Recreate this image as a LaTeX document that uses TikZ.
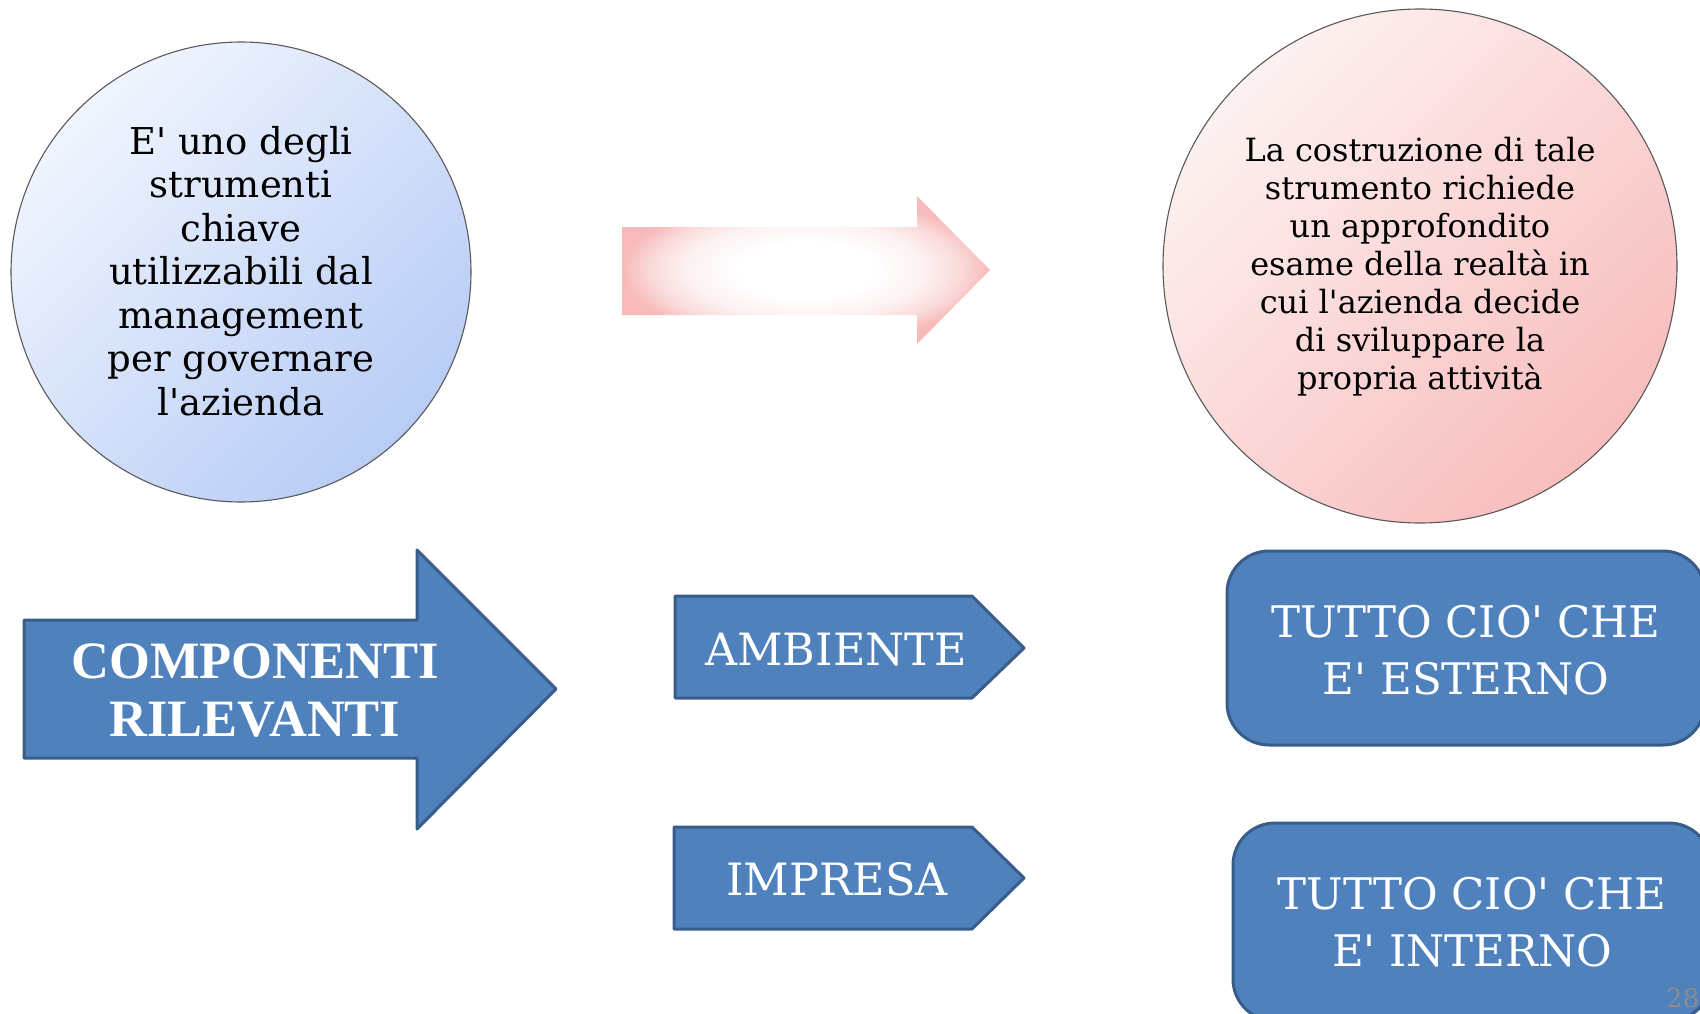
\documentclass[tikz,border=0pt]{standalone}
\usepackage{fontspec}
\setmainfont{DejaVu Serif}[Ligatures=TeXOff]
\newfontfamily\timesfam{Liberation Serif}[Ligatures=TeXOff]
\definecolor{officeblue}{HTML}{4F81BD}
\definecolor{officeborder}{HTML}{385D8A}
\definecolor{bluelight}{HTML}{F0F5FE}
\definecolor{bluedark}{HTML}{B8CCF5}
\definecolor{pinklight}{HTML}{FDF1F1}
\definecolor{pinkdark}{HTML}{F8BDBD}
\definecolor{pinkarrow}{HTML}{F7B9B9}
\definecolor{pinkmidA}{HTML}{FDF2F2}
\definecolor{pinkmidB}{HTML}{FADADA}
\definecolor{pagegray}{HTML}{8C8C8C}
\pgfdeclareradialshading{pinkglow}{\pgfpoint{0bp}{0bp}}{color(0bp)=(white); color(9bp)=(white); color(16bp)=(pinkmidA); color(21bp)=(pinkmidB); color(25bp)=(pinkarrow); color(50bp)=(pinkarrow)}
\begin{document}
\begin{tikzpicture}[x=1pt,y=-1pt,
  bluebox/.style={fill=officeblue, draw=officeborder, line width=3pt, line join=round},
  bluetext/.style={text=white, align=center, inner sep=0pt, font=\fontsize{44.5}{57}\selectfont},
  circtext/.style={align=center, inner sep=0pt, text=black},
  bigcircle/.style={circle, inner sep=0pt, draw=black!65, line width=1.1pt}
]
\useasboundingbox (0,0) rectangle (1700,1014);
\clip (0,0) rectangle (1700,1014);

% circles
\node[bigcircle, minimum size=460pt, top color=bluelight, bottom color=bluedark, shading angle=45] (c1) at (241,272) {};
\node[circtext, font=\fontsize{37}{43.5}\selectfont] (t1) at (241,271)
  {E' uno degli\\strumenti\\chiave\\utilizzabili dal\\management\\per governare\\l'azienda};

\node[bigcircle, minimum size=514pt, top color=pinklight, bottom color=pinkdark, shading angle=45] (c2) at (1420,266) {};
\node[circtext, font=\fontsize{32}{38}\selectfont] (t2) at (1420,267)
  {La costruzione di tale\\strumento richiede\\un approfondito\\esame della realtà in\\cui l'azienda decide\\di sviluppare la\\propria attività};

% pink arrow
\shade[shading=pinkglow] (622,227) -- (917,227) -- (917,196) -- (990,270) -- (917,344) -- (917,315) -- (622,315) -- cycle;

% big blue arrow
\draw[bluebox] (24,620) -- (417,620) -- (417,550) -- (556,689) -- (417,829) -- (417,758) -- (24,758) -- cycle;
\node[text=white, align=center, inner sep=0pt, font=\timesfam\bfseries\fontsize{52.5}{58}\selectfont] (comp) at (255,691) {COMPONENTI\\RILEVANTI};

% pentagons
\draw[bluebox] (675,596) -- (972,596) -- (1024,648) -- (972,698) -- (675,698) -- cycle;
\node[bluetext] (amb) at (836,650) {AMBIENTE};
\draw[bluebox] (674,827) -- (972,827) -- (1024,878) -- (972,929) -- (674,929) -- cycle;
\node[bluetext] (imp) at (837,879) {IMPRESA};

% rounded boxes
\draw[bluebox, rounded corners=42pt] (1227,551) rectangle (1705,745);
\node[bluetext, font=\fontsize{43.5}{57}\selectfont] (ext) at (1466,650) {TUTTO CIO' CHE\\E' ESTERNO};
\draw[bluebox, rounded corners=42pt] (1233,823) rectangle (1711,1021);
\node[bluetext, font=\fontsize{43.5}{57}\selectfont] (int) at (1472,922) {TUTTO CIO' CHE\\E' INTERNO};

% page number
\node[anchor=base west, inner sep=0pt, text=pagegray, font=\fontsize{26}{30}\selectfont] (pg) at (1666,1007) {28};
\end{tikzpicture}
\end{document}
